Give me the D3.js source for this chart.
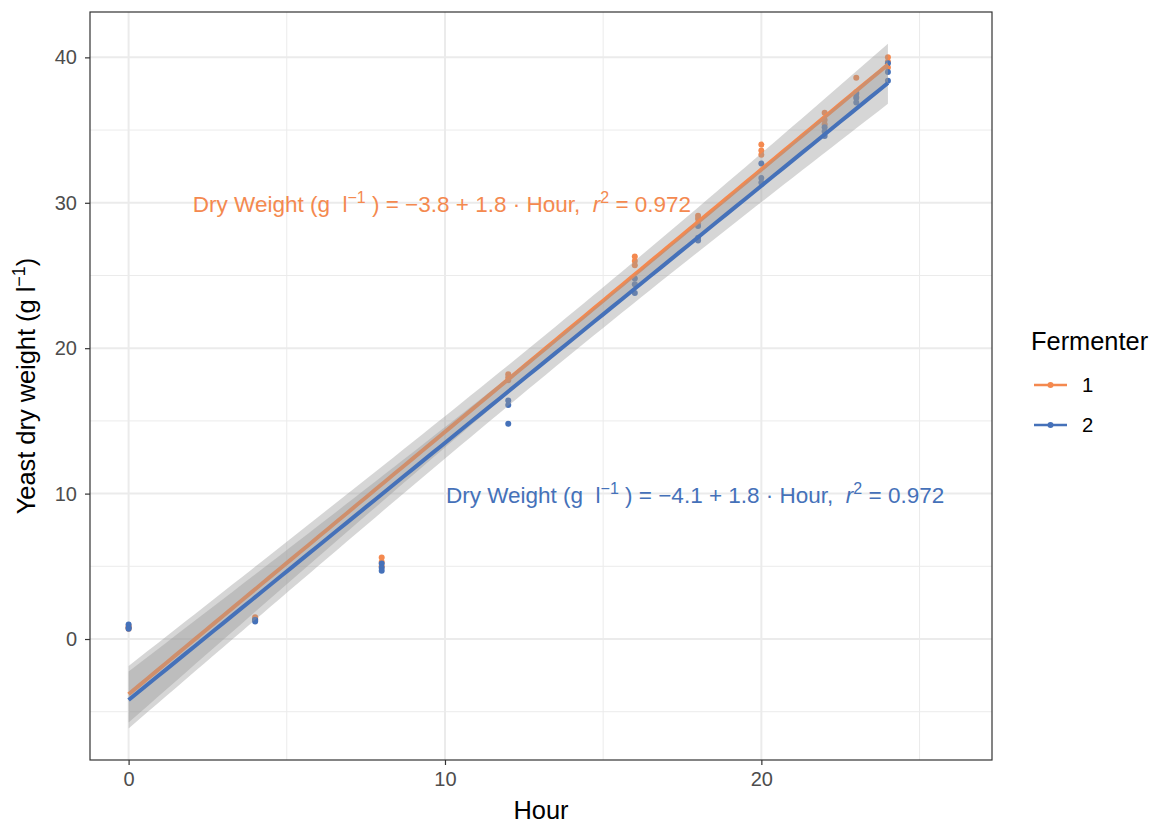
<!DOCTYPE html>
<html><head><meta charset="utf-8">
<script src="https://cdn.jsdelivr.net/npm/d3@7"></script>
<style>
body{margin:0;background:#fff;}
text{font-family:"Liberation Sans",Arial,Helvetica,sans-serif;}
</style>
</head><body>
<svg id="chart" width="1155" height="825"></svg>
<script>
// ---------------- data ----------------
const sampleHours = [0,0,0, 4,4,4, 8,8,8, 12,12,12, 16,16,16, 18,18,18, 20,20,20, 22,22,22, 23,23,23, 24,24,24];
const fermenter1Weight = [0.9,0.8,0.7, 1.5,1.4,1.3, 5.6,5.3,5.0, 18.2,18.0,17.8, 26.3,26.0,25.7, 29.1,28.9,28.6, 34.0,33.6,33.3, 36.2,35.7,35.4, 38.6,37.6,37.3, 40.0,39.7,39.3];
const fermenter2Weight = [1.0,0.8,0.7, 1.3,1.2,1.3, 5.2,4.9,4.7, 16.4,16.1,14.8, 24.8,24.4,23.8, 28.4,27.6,27.4, 32.7,31.7,31.4, 35.2,34.9,34.6, 37.5,37.2,36.9, 39.6,39.0,38.4];
const fermenterNames = ["1","2"];
const fermenterColors = ["#F4894F","#4571B9"];
const eqIntercepts = ["\u22123.8","\u22124.1"];
const eqSlopes = ["1.8","1.8"];
const eqR2 = ["0.972","0.972"];
const xTickValues = [0,10,20];
const yTickValues = [0,10,20,30,40];
const xMinorValues = [5,15,25];
const yMinorValues = [-5,5,15,25,35];

// ---------------- layout ----------------
const svg = d3.select("#chart");
const P = {left:90, right:992, top:12, bottom:760};
const x = d3.scaleLinear().domain([-1.22, 27.29]).range([P.left, P.right]);
const y = d3.scaleLinear().domain([-8.32, 43.12]).range([P.bottom, P.top]);

svg.append("rect").attr("width",1155).attr("height",825).attr("fill","#fff");
svg.append("defs").append("clipPath").attr("id","clip")
  .append("rect").attr("x",P.left).attr("y",P.top).attr("width",P.right-P.left).attr("height",P.bottom-P.top);

const grid = svg.append("g");
xMinorValues.forEach(v=>grid.append("line").attr("x1",x(v)).attr("x2",x(v)).attr("y1",P.top).attr("y2",P.bottom).attr("stroke","#EBEBEB").attr("stroke-width",1));
yMinorValues.forEach(v=>grid.append("line").attr("y1",y(v)).attr("y2",y(v)).attr("x1",P.left).attr("x2",P.right).attr("stroke","#EBEBEB").attr("stroke-width",1));
xTickValues.forEach(v=>grid.append("line").attr("x1",x(v)).attr("x2",x(v)).attr("y1",P.top).attr("y2",P.bottom).attr("stroke","#EBEBEB").attr("stroke-width",2));
yTickValues.forEach(v=>grid.append("line").attr("y1",y(v)).attr("y2",y(v)).attr("x1",P.left).attr("x2",P.right).attr("stroke","#EBEBEB").attr("stroke-width",2));

const plot = svg.append("g").attr("clip-path","url(#clip)");
const series = [fermenter1Weight, fermenter2Weight];

// points
series.forEach((vals,i)=>{
  plot.append("g").selectAll("circle").data(vals).join("circle")
    .attr("cx",(d,j)=>x(sampleHours[j])).attr("cy",d=>y(d)).attr("r",3)
    .attr("fill",fermenterColors[i]);
});

// linear fits with 95% CI
function fit(xs, ys){
  const n=xs.length, xb=d3.mean(xs), yb=d3.mean(ys);
  let sxx=0,sxy=0; xs.forEach((v,k)=>{sxx+=(v-xb)**2; sxy+=(v-xb)*(ys[k]-yb);});
  const b=sxy/sxx, a=yb-b*xb;
  let sse=0; xs.forEach((v,k)=>{sse+=(ys[k]-a-b*v)**2;});
  const s=Math.sqrt(sse/(n-2));
  return {a,b,s,xb,sxx,n};
}
const tCrit = 2.048;
const xGrid = d3.range(0, 24.0001, 0.3);
series.forEach((vals,i)=>{
  const f = fit(sampleHours, vals);
  const pts = xGrid.map(h=>{
    const yh=f.a+f.b*h, se=f.s*Math.sqrt(1/f.n+(h-f.xb)**2/f.sxx);
    return {h, yh, lo:yh-tCrit*se, hi:yh+tCrit*se};
  });
  plot.append("path").datum(pts)
    .attr("d", d3.area().x(d=>x(d.h)).y0(d=>y(d.lo)).y1(d=>y(d.hi)))
    .attr("fill","#999999").attr("fill-opacity",0.4);
  plot.append("path").datum(pts)
    .attr("d", d3.line().x(d=>x(d.h)).y(d=>y(d.yh)))
    .attr("fill","none").attr("stroke",fermenterColors[i]).attr("stroke-width",4);
});

// equation annotations
const labelAnchors = [[2,30],[10,10]];
const fs = 22.5;
labelAnchors.forEach((p,i)=>{
  const t = svg.append("text").attr("x",x(p[0])+1).attr("y",y(p[1])+9.5)
    .attr("fill",fermenterColors[i]).attr("font-size",fs).style("white-space","pre");
  t.append("tspan").text("Dry Weight (g  l");
  t.append("tspan").attr("dy",-9).attr("font-size",16).text("\u22121");
  t.append("tspan").attr("dy",9).text(" ) = "+eqIntercepts[i]+" + "+eqSlopes[i]+" \u00B7 Hour,  ");
  t.append("tspan").attr("font-style","italic").text("r");
  t.append("tspan").attr("dy",-9).attr("font-size",16).text("2");
  t.append("tspan").attr("dy",9).text(" = "+eqR2[i]);
});

// panel border
svg.append("rect").attr("x",P.left).attr("y",P.top).attr("width",P.right-P.left).attr("height",P.bottom-P.top)
  .attr("fill","none").attr("stroke","#333333").attr("stroke-width",1.2);

// axes
const xAxis = svg.append("g").attr("transform",`translate(0,${P.bottom})`)
  .call(d3.axisBottom(x).tickValues(xTickValues).tickSize(5).tickPadding(7));
const yAxis = svg.append("g").attr("transform",`translate(${P.left},0)`)
  .call(d3.axisLeft(y).tickValues(yTickValues).tickSize(5).tickPadding(8));
[xAxis,yAxis].forEach(ax=>{
  ax.select(".domain").remove();
  ax.selectAll(".tick line").attr("stroke","#333333").attr("stroke-width",1.2);
  ax.selectAll(".tick text").attr("fill","#4D4D4D").attr("font-size",20)
    .attr("font-family","Liberation Sans, Arial, sans-serif");
});

// axis titles
svg.append("text").attr("x",(P.left+P.right)/2).attr("y",819).attr("text-anchor","middle")
  .attr("font-size",25.4).attr("fill","#000").text("Hour");
const yt = svg.append("text").attr("transform",`translate(35,${(P.top+P.bottom)/2}) rotate(-90)`)
  .attr("text-anchor","middle").attr("font-size",25.4).attr("fill","#000");
yt.append("tspan").text("Yeast dry weight (g l");
yt.append("tspan").attr("dy",-10).attr("font-size",18).text("\u22121");
yt.append("tspan").attr("dy",10).text(")");

// legend
const lg = svg.append("g");
lg.append("text").attr("x",1031).attr("y",350).attr("font-size",25.4).attr("fill","#000").text("Fermenter");
fermenterNames.forEach((nm,i)=>{
  const yy = 385 + i*40;
  lg.append("line").attr("x1",1034).attr("x2",1067).attr("y1",yy).attr("y2",yy)
    .attr("stroke",fermenterColors[i]).attr("stroke-width",2.6);
  lg.append("circle").attr("cx",1050.5).attr("cy",yy).attr("r",3).attr("fill",fermenterColors[i]);
  lg.append("text").attr("x",1082).attr("y",yy+7).attr("font-size",20.3).attr("fill","#000").text(nm);
});
</script>
</body></html>
